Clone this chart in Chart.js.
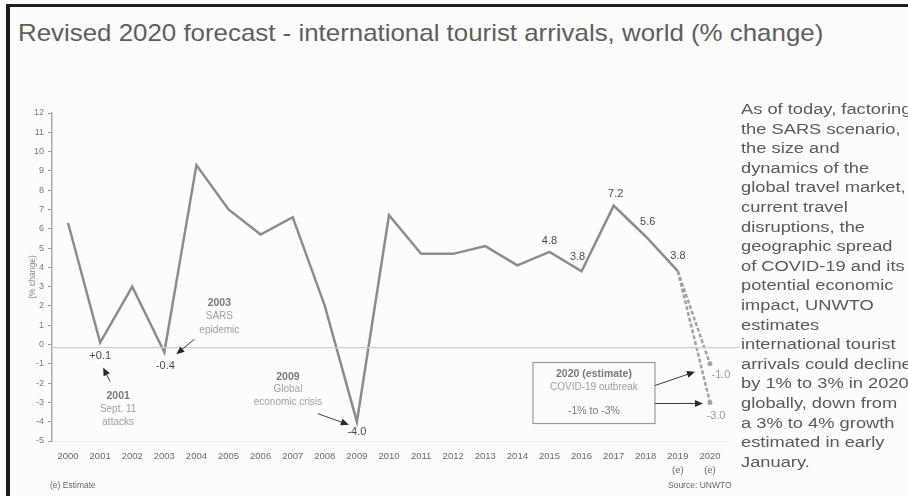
<!DOCTYPE html>
<html>
<head>
<meta charset="utf-8">
<script src="https://cdn.jsdelivr.net/npm/chart.js@4.4.1/dist/chart.umd.min.js"></script>
<style>
  html, body { margin: 0; padding: 0; background: #ffffff; }
  #wrap { position: relative; width: 908px; height: 496px; overflow: hidden; background: #fcfcfc; font-family: "Liberation Sans", Arial, sans-serif; }
  #frameTop { position: absolute; left: 6px; top: 4px; width: 902px; height: 3px; background: #1e1e1e; }
  #frameLeft { position: absolute; left: 6px; top: 4px; width: 4px; height: 492px; background: #1e1e1e; }
  #title { position: absolute; left: 18px; top: 19px; font-size: 24px; color: #5e5e5e; white-space: nowrap; transform: scaleX(1.078); transform-origin: left top; }
  #chart { position: absolute; left: 0; top: 0; }
  #side { position: absolute; left: 741px; top: 99px; font-size: 15.5px; line-height: 19.6px; color: #5a5a5a; white-space: nowrap; transform: scaleX(1.18); transform-origin: left top; }
  .foot { position: absolute; top: 480px; font-size: 8.5px; color: #666; white-space: nowrap; }
</style>
</head>
<body>
<div id="wrap">
  <div id="frameTop"></div>
  <div id="frameLeft"></div>
  <div id="title">Revised 2020 forecast - international tourist arrivals, world (% change)</div>
  <canvas id="chart" width="908" height="496"></canvas>
  <div id="side">As of today, factoring<br>the SARS scenario,<br>the size and<br>dynamics of the<br>global travel market,<br>current travel<br>disruptions, the<br>geographic spread<br>of COVID-19 and its<br>potential economic<br>impact, UNWTO<br>estimates<br>international tourist<br>arrivals could decline<br>by 1% to 3% in 2020<br>globally, down from<br>a 3% to 4% growth<br>estimated in early<br>January.</div>
  <div class="foot" style="left:50px">(e) Estimate</div>
  <div class="foot" style="left:668px">Source: UNWTO</div>
</div>
<script>
// data
const years = ['2000', '2001', '2002', '2003', '2004', '2005', '2006', '2007', '2008', '2009',
    '2010', '2011', '2012', '2013', '2014', '2015', '2016', '2017', '2018', '2019', '2020'];
const estimateYears = ['2019', '2020'];
const arrivalsChange = [6.3, 0.1, 3.0, -0.4, 9.3, 7.0, 5.7, 6.6, 2.0, -4.0,
    6.7, 4.7, 4.7, 5.1, 4.1, 4.8, 3.8, 7.2, 5.6, 3.8, null];
const forecastHigh = [3.8, -1.0];
const forecastLow = [3.8, -3.0];
const yTicks = { min: -5, max: 12, step: 1 };

// labels printed next to the line: [year, value, text, dx, dy]
const valueLabels = [
    ['2001', 0.1, '+0.1', 0, 13],
    ['2003', -0.4, '-0.4', 1, 14],
    ['2009', -4.0, '-4.0', 0, 10],
    ['2015', 4.8, '4.8', 0, -11],
    ['2016', 3.8, '3.8', -4, -14],
    ['2017', 7.2, '7.2', 2, -12],
    ['2018', 5.6, '5.6', 2, -15],
    ['2019', 3.8, '3.8', 0, -15],
    ['2020', -1.0, '-1.0', 11, 11],
    ['2020', -3.0, '-3.0', 6, 14]
];

// callouts: anchor year/value, text lines [text, dy, dark], arrow [x1, y1, x2, y2] relative to anchor
const callouts = [
    { year: '2001', value: 0.1, dx: 18, lines: [['2001', 54, true], ['Sept. 11', 67, false], ['attacks', 80, false]], arrow: [10, 39, 3, 25] },
    { year: '2003', value: -0.4, dx: 55, lines: [['2003', -49, true], ['SARS', -36, false], ['epidemic', -22, false]], arrow: [30, -13, 12, 2] },
    { year: '2009', value: -4.0, dx: -69, lines: [['2009', -45, true], ['Global', -32, false], ['economic crisis', -19, false]], arrow: [-39, -8, -8, 3] }
];

const lineGrey = '#8c8c8c';

const annotations = {
    id: 'annotations',
    afterDatasetsDraw(chart) {
        const { ctx, scales: { x, y } } = chart;
        const px = (yr) => x.getPixelForValue(years.indexOf(yr));
        const py = (v) => y.getPixelForValue(v);

        ctx.save();
        // zero line, runs a bit past the plot
        ctx.strokeStyle = '#cfcfcf';
        ctx.lineWidth = 1.2;
        ctx.beginPath();
        ctx.moveTo(x.left, py(0) + 3);
        ctx.lineTo(x.right + 14, py(0) + 3);
        ctx.stroke();

        // y title
        ctx.save();
        ctx.translate(33, (y.top + y.bottom) / 2);
        ctx.rotate(-Math.PI / 2);
        ctx.fillStyle = '#8a8a8a';
        ctx.font = '8.5px "Liberation Sans", Arial';
        ctx.textAlign = 'center';
        ctx.textBaseline = 'middle';
        ctx.fillText('(% change)', 0, 0);
        ctx.restore();

        ctx.textAlign = 'center';
        ctx.textBaseline = 'middle';

        ctx.font = '11px "Liberation Sans", Arial';
        ctx.fillStyle = '#4a4a4a';
        valueLabels.forEach(([yr, v, t, dx, dy]) => {
            if (yr === '2020') ctx.fillStyle = '#9a9a9a';
            ctx.fillText(t, px(yr) + dx, py(v) + dy);
        });

        const arrow = (x1, y1, x2, y2) => {
            ctx.strokeStyle = '#3a3a3a';
            ctx.fillStyle = '#2a2a2a';
            ctx.lineWidth = 1;
            const a = Math.atan2(y2 - y1, x2 - x1);
            ctx.beginPath();
            ctx.moveTo(x1, y1);
            ctx.lineTo(x2 - 5 * Math.cos(a), y2 - 5 * Math.sin(a));
            ctx.stroke();
            ctx.beginPath();
            ctx.moveTo(x2, y2);
            ctx.lineTo(x2 - 8 * Math.cos(a) + 3.5 * Math.sin(a), y2 - 8 * Math.sin(a) - 3.5 * Math.cos(a));
            ctx.lineTo(x2 - 8 * Math.cos(a) - 3.5 * Math.sin(a), y2 - 8 * Math.sin(a) + 3.5 * Math.cos(a));
            ctx.closePath();
            ctx.fill();
        };

        callouts.forEach(c => {
            const ax = px(c.year), ay = py(c.value);
            c.lines.forEach(([t, dy, dark]) => {
                ctx.font = dark ? 'bold 10.5px "Liberation Sans", Arial' : '10px "Liberation Sans", Arial';
                ctx.fillStyle = dark ? '#7a7a7a' : '#a0a0a0';
                ctx.fillText(t, ax + c.dx, ay + dy);
            });
            const [x1, y1, x2, y2] = c.arrow;
            arrow(ax + x1, ay + y1, ax + x2, ay + y2);
        });

        // 2020 estimate box
        const bx = px('2020'), b0 = py(0);
        ctx.strokeStyle = '#9a9a9a';
        ctx.lineWidth = 1.2;
        ctx.strokeRect(bx - 177, b0 + 18, 122, 61);
        ctx.font = 'bold 10.5px "Liberation Sans", Arial';
        ctx.fillStyle = '#7a7a7a';
        ctx.fillText('2020 (estimate)', bx - 116, b0 + 30);
        ctx.font = '10px "Liberation Sans", Arial';
        ctx.fillStyle = '#a0a0a0';
        ctx.fillText('COVID-19 outbreak', bx - 116, b0 + 43);
        ctx.font = '10.5px "Liberation Sans", Arial';
        ctx.fillStyle = '#7a7a7a';
        ctx.fillText('-1% to -3%', bx - 116, b0 + 67);
        arrow(bx - 55, b0 + 41, bx - 15, py(forecastHigh[1]) + 8);
        arrow(bx - 55, b0 + 59, bx - 7, py(forecastLow[1]) + 1);
        ctx.restore();
    }
};

const dashed = (data) => ({
    data: estimateYears.map((yr, i) => ({ x: yr, y: data[i] })),
    borderColor: '#a3a3a3',
    borderWidth: 2.5,
    borderDash: [4, 2],
    pointRadius: ctx => ctx.dataIndex === 1 ? 2.5 : 0,
    pointBackgroundColor: '#a3a3a3',
    pointBorderWidth: 0
});

new Chart(document.getElementById('chart'), {
    type: 'line',
    data: {
        labels: years,
        datasets: [
            dashed(forecastHigh),
            dashed(forecastLow),
            {
                data: arrivalsChange,
                borderColor: lineGrey,
                borderWidth: 2.5,
                pointRadius: 0,
                tension: 0
            }
        ]
    },
    options: {
        responsive: false,
        animation: false,
        devicePixelRatio: 1,
        layout: { padding: { left: 10, right: 182, top: 113, bottom: 15 } },
        plugins: { legend: { display: false }, tooltip: { enabled: false } },
        scales: {
            x: {
                offset: true,
                afterFit: scale => { scale.height = 40; },
                grid: { display: false },
                border: { display: true, color: '#ececec', width: 1 },
                ticks: {
                    autoSkip: false,
                    maxRotation: 0,
                    padding: 0,
                    color: '#6a6a6a',
                    font: { size: 9.5, family: '"Liberation Sans", Arial', lineHeight: 1.5 },
                    callback: function (val) {
                        const yr = this.getLabelForValue(val);
                        return estimateYears.includes(yr) ? [yr, '(e)'] : yr;
                    }
                }
            },
            y: {
                min: yTicks.min,
                max: yTicks.max,
                afterFit: scale => { scale.width = 42; },
                grid: { drawOnChartArea: false, tickLength: 4, color: '#9a9a9a' },
                border: { display: true, color: '#a8a8a8', width: 1.5 },
                ticks: {
                    stepSize: yTicks.step,
                    padding: 4,
                    color: '#7a7a7a',
                    font: { size: 9, family: '"Liberation Sans", Arial' }
                }
            }
        }
    },
    plugins: [annotations]
});
</script>
</body>
</html>
